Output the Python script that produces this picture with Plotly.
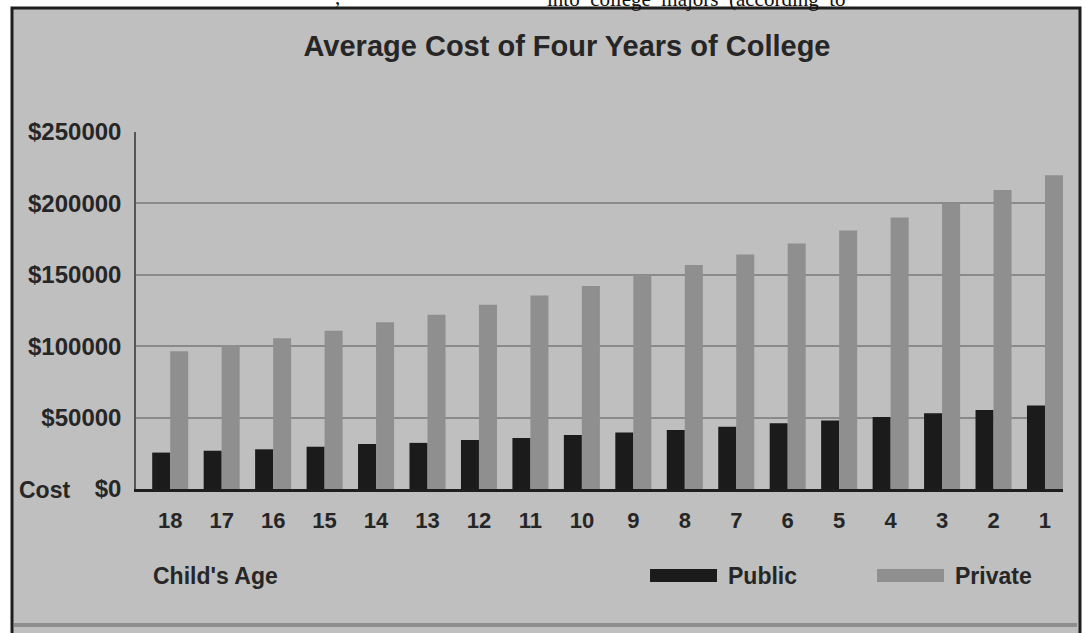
import plotly.graph_objects as go

ages = ["18", "17", "16", "15", "14", "13", "12", "11", "10", "9", "8", "7", "6", "5", "4", "3", "2", "1"]
public = [25500, 26800, 27800, 29600, 31500, 32300, 34300, 35800, 37800, 39500,
          41400, 43600, 46000, 47900, 50400, 53000, 55400, 58400]
private = [96500, 100500, 105500, 110800, 116800, 122000, 129000, 135500, 142200, 149800,
           156800, 164300, 172000, 181000, 190200, 200000, 209300, 219800]
y_ticks = [0, 50000, 100000, 150000, 200000, 250000]
y_tick_labels = ["$" + str(v) for v in y_ticks]

W, H = 1086, 633
L, R, T, B = 136, 1063, 132, 489
PW, PH = R - L, B - T

def px(x):
    return (x - L) / PW

def py(y):
    return (B - y) / PH

FONT = "Liberation Sans, Arial, Helvetica, sans-serif"
TXT = "#262626"
BG = "#bfbfbf"
PUB = "#1b1b1b"
PRI = "#8f8f8f"

fig = go.Figure()
fig.add_trace(go.Bar(x=ages, y=public, name="Public", marker=dict(color=PUB, line=dict(width=0)), showlegend=False))
fig.add_trace(go.Bar(x=ages, y=private, name="Private", marker=dict(color=PRI, line=dict(width=0)), showlegend=False))

shapes = [
    # panel
    dict(type="rect", xref="paper", yref="paper", x0=px(12), x1=px(1080), y0=py(8), y1=py(660),
         fillcolor=BG, line=dict(color="#1e1e1e", width=3), layer="below"),
    # bottom shadow band
    dict(type="line", xref="paper", yref="paper", x0=px(14), x1=px(1077), y0=py(625), y1=py(625),
         line=dict(color="#8e8e8e", width=4), layer="below"),
    # legend swatches
    dict(type="rect", xref="paper", yref="paper", x0=px(650), x1=px(717), y0=py(582), y1=py(569),
         fillcolor=PUB, line=dict(width=0), layer="below"),
    dict(type="rect", xref="paper", yref="paper", x0=px(877), x1=px(944), y0=py(582), y1=py(569),
         fillcolor=PRI, line=dict(width=0), layer="below"),
]

annotations = [
    dict(text="into\u00a0 college\u00a0 majors\u00a0 (according\u00a0 to", xref="paper", yref="paper",
         x=px(545), y=py(13), xanchor="left", yanchor="bottom", showarrow=False,
         font=dict(family="Liberation Serif, Times New Roman, serif", size=21, color="#111")),
    dict(text=",", xref="paper", yref="paper",
         x=px(333), y=py(11), xanchor="left", yanchor="bottom", showarrow=False,
         font=dict(family="Liberation Serif, Times New Roman, serif", size=21, color="#111")),
    dict(text="Cost", xref="paper", yref="paper", x=px(17), y=py(490), xanchor="left", yanchor="middle",
         showarrow=False, font=dict(family=FONT, size=23, color=TXT, weight="bold")),
    dict(text="Child's Age", xref="paper", yref="paper", x=px(151), y=py(576), xanchor="left", yanchor="middle",
         showarrow=False, font=dict(family=FONT, size=23, color=TXT, weight="bold")),
    dict(text="Public", xref="paper", yref="paper", x=px(726), y=py(576), xanchor="left", yanchor="middle",
         showarrow=False, font=dict(family=FONT, size=23, color=TXT, weight="bold")),
    dict(text="Private", xref="paper", yref="paper", x=px(953), y=py(576), xanchor="left", yanchor="middle",
         showarrow=False, font=dict(family=FONT, size=23, color=TXT, weight="bold")),
]

fig.update_layout(
    width=W, height=H,
    margin=dict(l=L, r=W - R, t=T, b=H - B, pad=0),
    paper_bgcolor="white",
    plot_bgcolor="rgba(0,0,0,0)",
    barmode="group",
    bargap=0.3,
    bargroupgap=0,
    showlegend=False,
    title=dict(text="Average Cost of Four Years of College", xref="container", yref="container",
               x=567 / W, y=1 - 46 / H, xanchor="center", yanchor="middle",
               font=dict(family=FONT, size=29, color=TXT, weight="bold")),
    shapes=shapes,
    annotations=annotations,
)

fig.update_xaxes(
    type="category",
    range=[-0.665, 17.35],
    showgrid=False,
    showline=True, linecolor="#1e1e1e", linewidth=3,
    ticks="", ticklabelstandoff=10,
    tickfont=dict(family=FONT, size=22, color=TXT, weight="bold"),
    fixedrange=True,
)
fig.update_yaxes(
    range=[0, 250000],
    tickvals=y_ticks, ticktext=y_tick_labels,
    showgrid=True, gridcolor="#8a8a8a", gridwidth=1.5,
    zeroline=False,
    showline=True, linecolor="#555555", linewidth=1.5,
    ticks="", ticklabelstandoff=8,
    tickfont=dict(family=FONT, size=24, color=TXT, weight="bold"),
    fixedrange=True,
)

fig.write_html("out.html", config={"displayModeBar": False},
               post_script="document.body.style.margin='0';document.body.style.overflow='hidden';")
